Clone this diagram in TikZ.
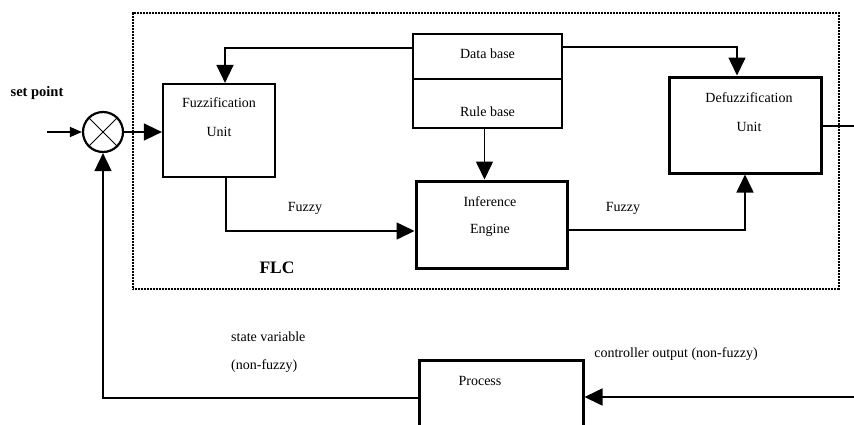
\documentclass[tikz,border=0pt]{standalone}
\usepackage{fontspec}
\setmainfont{Liberation Serif}
\usetikzlibrary{arrows.meta,calc}
\begin{document}
\begin{tikzpicture}[x=1pt,y=-1pt,
  box/.style={draw,line width=2.2pt,inner sep=0pt},
  thickbox/.style={draw,line width=3pt,inner sep=0pt},
  lbl/.style={font=\fontsize{14}{16}\selectfont,inner sep=0pt},
  conn/.style={line width=1.6pt},
  bigarrow/.style={conn,-{Triangle[length=18pt,width=17pt]}},
  smallarrow/.style={conn,-{Triangle[length=12pt,width=10pt]}}]
\useasboundingbox (0,0) rectangle (854,424);
\clip (0,0) rectangle (854,424);
% FLC frame
\node[draw,line width=1.2pt,dash pattern=on 1pt off 0.5pt,minimum width=706pt,minimum height=276pt,inner sep=0pt] (flc) at (486,151) {};
\node[font=\bfseries\fontsize{17.5}{19}\selectfont,inner sep=0pt] (flclbl) at (277,268) {FLC};
% summing junction
\node[draw,circle,line width=2.2pt,minimum size=40pt,inner sep=0pt] (sum) at (103,132) {};
\draw[line width=1pt] (sum.north west) -- (sum.south east) (sum.north east) -- (sum.south west);
\node[lbl,font=\bfseries\fontsize{14.5}{16}\selectfont] (sp) at (37,93) {set point};
% boxes
\node[box,minimum width=112pt,minimum height=93pt] (fuzz) at (219,130.5) {};
\node[lbl] (fuzzt1) at (219,103) {Fuzzification};
\node[lbl] (fuzzt2) at (219,132) {Unit};
\node[box,minimum width=149pt,minimum height=45pt] (dbup) at (487.5,56.5) {};
\node[box,minimum width=149pt,minimum height=49pt] (dbdown) at (487.5,103.5) {};
\node[lbl] (dbt) at (487.5,54) {Data base};
\node[lbl] (rbt) at (487.5,112) {Rule base};
\node[thickbox,minimum width=152pt,minimum height=96pt] (defuzz) at (745,125) {};
\node[lbl] (dft1) at (749,98) {Defuzzification};
\node[lbl] (dft2) at (749,127) {Unit};
\node[thickbox,minimum width=151pt,minimum height=87pt] (inf) at (491.5,224.5) {};
\node[lbl] (inft1) at (490,202) {Inference};
\node[lbl] (inft2) at (490,230) {Engine};
\node[thickbox,minimum width=164pt,minimum height=76pt] (proc) at (501,398) {};
\node[lbl] (proct) at (480,381) {Process};
% labels
\node[lbl] (fz1) at (305,208) {Fuzzy};
\node[lbl] (fz2) at (623,208) {Fuzzy};
\node[lbl,anchor=west] (sv1) at (231,337) {state variable};
\node[lbl,anchor=west] (sv2) at (231,366) {(non-fuzzy)};
\node[lbl] (co) at (676,354) {controller output (non-fuzzy)};
% connectors
\coordinate (inp) at (47,132);
\coordinate (outa) at (880,126);
\coordinate (outb) at (880,397);
\draw[smallarrow] (inp) -- (sum.west);
\draw[bigarrow] (sum.east) -- (sum.east -| fuzz.west);
\draw[bigarrow] ([yshift=8.5pt]dbup.west) -| ([xshift=6pt]fuzz.north);
\draw[bigarrow] ([yshift=9.5pt]dbup.east) -| ([xshift=-8pt]defuzz.north);
\draw[bigarrow] ([xshift=-3pt]dbdown.south) -- ([xshift=-3pt]dbdown.south |- inf.north);
\draw[bigarrow] ([xshift=7pt]fuzz.south) |- ([yshift=-6.5pt]inf.west);
\draw[bigarrow] ([yshift=-5.5pt]inf.east) -| (defuzz.south);
\draw[conn] (defuzz.east |- outa) -- (outa);
\draw[bigarrow] (outa) -- (outb) -- (outb -| proc.east);
\draw[bigarrow] (proc.west) -| (sum.south);
\end{tikzpicture}
\end{document}
